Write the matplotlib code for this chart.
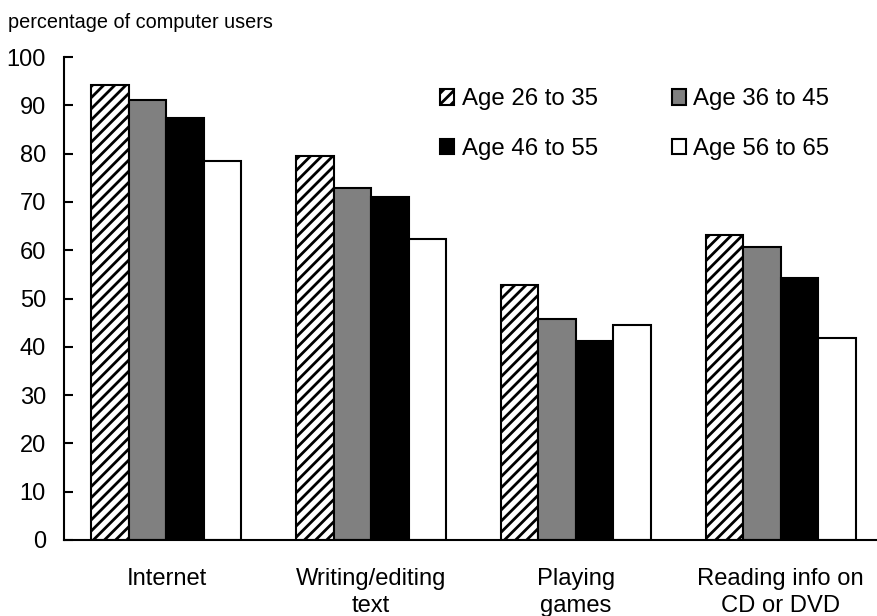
import numpy as np
import matplotlib
matplotlib.use('Agg')
import matplotlib.pyplot as plt

plt.rcParams['font.family'] = ['Liberation Sans', 'DejaVu Sans']
plt.rcParams['hatch.linewidth'] = 2.0

categories = ['Internet', 'Writing/editing\ntext', 'Playing\ngames',
              'Reading info on\nCD or DVD']
series = ['Age 26 to 35', 'Age 36 to 45', 'Age 46 to 55', 'Age 56 to 65']
age_26_35 = [94.1, 79.6, 52.7, 63.2]
age_36_45 = [91.2, 72.8, 45.7, 60.6]
age_46_55 = [87.4, 71.0, 41.2, 54.3]
age_56_65 = [78.5, 62.3, 44.5, 41.8]
values = [age_26_35, age_36_45, age_46_55, age_56_65]

styles = [
    dict(facecolor='white', hatch='///'),
    dict(facecolor='#808080'),
    dict(facecolor='black'),
    dict(facecolor='white'),
]

fig = plt.figure(figsize=(8.77, 6.16), dpi=100)
ax = fig.add_axes([64/877, 76/616, 813/877, 483/616])

x = np.arange(len(categories))
w = 0.183
bars = []
for i, (vals, lab, st) in enumerate(zip(values, series, styles)):
    b = ax.bar(x + (i - 1.5)*w, vals, w, label=lab, edgecolor='black',
               linewidth=1.5, **st)
    bars.append(b)

ax.set_xlim(-0.5, 3.47)
ax.set_ylim(0, 100)
ax.set_yticks(np.arange(0, 101, 10))
ax.set_xticks(x)
ax.set_xticklabels(categories, fontsize=17.1, linespacing=1.3)
ax.tick_params(axis='y', direction='in', length=6.5, width=1.5,
               labelsize=17, pad=13)
ax.tick_params(axis='x', length=0, pad=20)
for s in ['top', 'right']:
    ax.spines[s].set_visible(False)
for s in ['left', 'bottom']:
    ax.spines[s].set_linewidth(1.5)

# row-wise order: 26-35, 36-45 / 46-55, 56-65
order = [0, 2, 1, 3]
ax.legend([bars[k] for k in order], [series[k] for k in order],
          ncol=2, loc='upper left', bbox_to_anchor=(0.4625, 0.935),
          frameon=False, fontsize=17.3, handlelength=0.6, handleheight=0.6,
          handletextpad=0.3, labelspacing=1.15, columnspacing=3.08,
          borderpad=0, borderaxespad=0)

fig.text(8/877, 1 - 22/616, 'percentage of computer users', fontsize=14.3,
         va='center', ha='left')

fig.savefig('out.png', dpi=100)
